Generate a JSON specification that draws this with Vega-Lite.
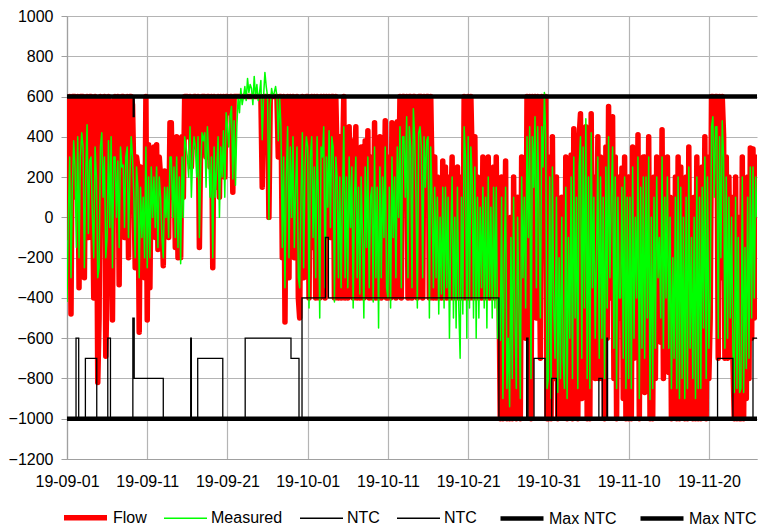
{
"$schema": "https://vega.github.io/schema/vega-lite/v6.json",
"width": 690, "height": 443,
"autosize": {"type": "none"},
"padding": {"left": 67, "top": 16, "right": 1, "bottom": 69},
"background": "white",
"config": {"font": "Liberation Sans", "view": {"stroke": null}},
"datasets": {
"fm": [
{"t":"2019-09-01T00:00","Flow":-100,"Measured":-420},{"t":"2019-09-01T04:00","Flow":320,"Measured":0},{"t":"2019-09-01T08:00","Flow":600,"Measured":300},{"t":"2019-09-01T12:00","Flow":-480,"Measured":-300},{"t":"2019-09-01T16:00","Flow":600,"Measured":150},{"t":"2019-09-01T20:00","Flow":600,"Measured":380},
{"t":"2019-09-02T00:00","Flow":600,"Measured":250},{"t":"2019-09-02T04:00","Flow":100,"Measured":-150},{"t":"2019-09-02T08:00","Flow":600,"Measured":400},{"t":"2019-09-02T12:00","Flow":-350,"Measured":-200},{"t":"2019-09-02T16:00","Flow":600,"Measured":300},{"t":"2019-09-02T20:00","Flow":600,"Measured":420},
{"t":"2019-09-03T00:00","Flow":600,"Measured":350},{"t":"2019-09-03T04:00","Flow":-300,"Measured":-250},{"t":"2019-09-03T08:00","Flow":450,"Measured":200},{"t":"2019-09-03T12:00","Flow":600,"Measured":460},{"t":"2019-09-03T16:00","Flow":-100,"Measured":-80},{"t":"2019-09-03T20:00","Flow":600,"Measured":280},
{"t":"2019-09-04T00:00","Flow":600,"Measured":300},{"t":"2019-09-04T04:00","Flow":200,"Measured":0},{"t":"2019-09-04T08:00","Flow":-400,"Measured":-200},{"t":"2019-09-04T12:00","Flow":600,"Measured":350},{"t":"2019-09-04T16:00","Flow":420,"Measured":200},{"t":"2019-09-04T20:00","Flow":-820,"Measured":-300},
{"t":"2019-09-05T00:00","Flow":-500,"Measured":-250},{"t":"2019-09-05T04:00","Flow":600,"Measured":350},{"t":"2019-09-05T08:00","Flow":580,"Measured":420},{"t":"2019-09-05T12:00","Flow":300,"Measured":100},{"t":"2019-09-05T16:00","Flow":600,"Measured":300},{"t":"2019-09-05T20:00","Flow":-690,"Measured":-200},
{"t":"2019-09-06T00:00","Flow":-300,"Measured":-100},{"t":"2019-09-06T04:00","Flow":600,"Measured":380},{"t":"2019-09-06T08:00","Flow":100,"Measured":-50},{"t":"2019-09-06T12:00","Flow":560,"Measured":400},{"t":"2019-09-06T16:00","Flow":-510,"Measured":-250},{"t":"2019-09-06T20:00","Flow":580,"Measured":300},
{"t":"2019-09-07T00:00","Flow":600,"Measured":300},{"t":"2019-09-07T04:00","Flow":150,"Measured":0},{"t":"2019-09-07T08:00","Flow":600,"Measured":280},{"t":"2019-09-07T12:00","Flow":-335,"Measured":-150},{"t":"2019-09-07T16:00","Flow":580,"Measured":350},{"t":"2019-09-07T20:00","Flow":600,"Measured":250},
{"t":"2019-09-08T00:00","Flow":600,"Measured":260},{"t":"2019-09-08T04:00","Flow":-100,"Measured":-50},{"t":"2019-09-08T08:00","Flow":500,"Measured":300},{"t":"2019-09-08T12:00","Flow":600,"Measured":350},{"t":"2019-09-08T16:00","Flow":-200,"Measured":-100},{"t":"2019-09-08T20:00","Flow":600,"Measured":200},
{"t":"2019-09-09T00:00","Flow":600,"Measured":400},{"t":"2019-09-09T04:00","Flow":560,"Measured":300},{"t":"2019-09-09T08:00","Flow":200,"Measured":100},{"t":"2019-09-09T12:00","Flow":-250,"Measured":-200},{"t":"2019-09-09T16:00","Flow":300,"Measured":250},{"t":"2019-09-09T20:00","Flow":250,"Measured":150},
{"t":"2019-09-10T00:00","Flow":-570,"Measured":-300},{"t":"2019-09-10T04:00","Flow":250,"Measured":150},{"t":"2019-09-10T08:00","Flow":-200,"Measured":-100},{"t":"2019-09-10T12:00","Flow":200,"Measured":100},{"t":"2019-09-10T16:00","Flow":-300,"Measured":-200},{"t":"2019-09-10T20:00","Flow":600,"Measured":350},
{"t":"2019-09-11T00:00","Flow":-510,"Measured":-250},{"t":"2019-09-11T04:00","Flow":360,"Measured":200},{"t":"2019-09-11T08:00","Flow":-350,"Measured":-200},{"t":"2019-09-11T12:00","Flow":300,"Measured":250},{"t":"2019-09-11T16:00","Flow":100,"Measured":0},{"t":"2019-09-11T20:00","Flow":350,"Measured":200},
{"t":"2019-09-12T00:00","Flow":-100,"Measured":-50},{"t":"2019-09-12T04:00","Flow":360,"Measured":250},{"t":"2019-09-12T08:00","Flow":-160,"Measured":-150},{"t":"2019-09-12T12:00","Flow":300,"Measured":200},{"t":"2019-09-12T16:00","Flow":200,"Measured":100},{"t":"2019-09-12T20:00","Flow":0,"Measured":-100},
{"t":"2019-09-13T00:00","Flow":-240,"Measured":-200},{"t":"2019-09-13T04:00","Flow":230,"Measured":150},{"t":"2019-09-13T08:00","Flow":100,"Measured":0},{"t":"2019-09-13T12:00","Flow":200,"Measured":150},{"t":"2019-09-13T16:00","Flow":-100,"Measured":-100},{"t":"2019-09-13T20:00","Flow":470,"Measured":300},
{"t":"2019-09-14T00:00","Flow":470,"Measured":300},{"t":"2019-09-14T04:00","Flow":100,"Measured":0},{"t":"2019-09-14T08:00","Flow":350,"Measured":250},{"t":"2019-09-14T12:00","Flow":-150,"Measured":-100},{"t":"2019-09-14T16:00","Flow":400,"Measured":300},{"t":"2019-09-14T20:00","Flow":-200,"Measured":-150},
{"t":"2019-09-15T00:00","Flow":350,"Measured":200},{"t":"2019-09-15T04:00","Flow":-200,"Measured":-230},{"t":"2019-09-15T08:00","Flow":400,"Measured":300},{"t":"2019-09-15T12:00","Flow":100,"Measured":0},{"t":"2019-09-15T16:00","Flow":600,"Measured":400},{"t":"2019-09-15T20:00","Flow":600,"Measured":350},
{"t":"2019-09-16T00:00","Flow":600,"Measured":300},{"t":"2019-09-16T04:00","Flow":400,"Measured":200},{"t":"2019-09-16T08:00","Flow":600,"Measured":450},{"t":"2019-09-16T12:00","Flow":250,"Measured":100},{"t":"2019-09-16T16:00","Flow":450,"Measured":300},{"t":"2019-09-16T20:00","Flow":600,"Measured":400},
{"t":"2019-09-17T00:00","Flow":600,"Measured":350},{"t":"2019-09-17T04:00","Flow":350,"Measured":200},{"t":"2019-09-17T08:00","Flow":600,"Measured":400},{"t":"2019-09-17T12:00","Flow":-150,"Measured":-100},{"t":"2019-09-17T16:00","Flow":400,"Measured":250},{"t":"2019-09-17T20:00","Flow":600,"Measured":420},
{"t":"2019-09-18T00:00","Flow":600,"Measured":380},{"t":"2019-09-18T04:00","Flow":600,"Measured":420},{"t":"2019-09-18T08:00","Flow":300,"Measured":150},{"t":"2019-09-18T12:00","Flow":600,"Measured":450},{"t":"2019-09-18T16:00","Flow":600,"Measured":300},{"t":"2019-09-18T20:00","Flow":250,"Measured":100},
{"t":"2019-09-19T00:00","Flow":600,"Measured":300},{"t":"2019-09-19T04:00","Flow":-250,"Measured":-200},{"t":"2019-09-19T08:00","Flow":600,"Measured":350},{"t":"2019-09-19T12:00","Flow":150,"Measured":100},{"t":"2019-09-19T16:00","Flow":400,"Measured":250},{"t":"2019-09-19T20:00","Flow":600,"Measured":400},
{"t":"2019-09-20T00:00","Flow":100,"Measured":0},{"t":"2019-09-20T04:00","Flow":600,"Measured":350},{"t":"2019-09-20T08:00","Flow":350,"Measured":200},{"t":"2019-09-20T12:00","Flow":600,"Measured":430},{"t":"2019-09-20T16:00","Flow":200,"Measured":100},{"t":"2019-09-20T20:00","Flow":600,"Measured":520},
{"t":"2019-09-21T00:00","Flow":600,"Measured":450},{"t":"2019-09-21T04:00","Flow":520,"Measured":350},{"t":"2019-09-21T08:00","Flow":600,"Measured":500},{"t":"2019-09-21T12:00","Flow":600,"Measured":550},{"t":"2019-09-21T16:00","Flow":125,"Measured":190},{"t":"2019-09-21T20:00","Flow":600,"Measured":480},
{"t":"2019-09-22T00:00","Flow":600,"Measured":160},{"t":"2019-09-22T04:00","Flow":600,"Measured":450},{"t":"2019-09-22T08:00","Flow":600,"Measured":600},{"t":"2019-09-22T12:00","Flow":600,"Measured":520},{"t":"2019-09-22T16:00","Flow":600,"Measured":640},{"t":"2019-09-22T20:00","Flow":600,"Measured":560},
{"t":"2019-09-23T00:00","Flow":600,"Measured":600},{"t":"2019-09-23T04:00","Flow":600,"Measured":650},{"t":"2019-09-23T08:00","Flow":600,"Measured":580},{"t":"2019-09-23T12:00","Flow":600,"Measured":690},{"t":"2019-09-23T16:00","Flow":600,"Measured":620},{"t":"2019-09-23T20:00","Flow":600,"Measured":660},
{"t":"2019-09-24T00:00","Flow":600,"Measured":640},{"t":"2019-09-24T04:00","Flow":600,"Measured":560},{"t":"2019-09-24T08:00","Flow":600,"Measured":700},{"t":"2019-09-24T12:00","Flow":600,"Measured":600},{"t":"2019-09-24T16:00","Flow":600,"Measured":660},{"t":"2019-09-24T20:00","Flow":600,"Measured":580},
{"t":"2019-09-25T00:00","Flow":600,"Measured":620},{"t":"2019-09-25T04:00","Flow":600,"Measured":680},{"t":"2019-09-25T08:00","Flow":150,"Measured":385},{"t":"2019-09-25T12:00","Flow":600,"Measured":600},{"t":"2019-09-25T16:00","Flow":600,"Measured":720},{"t":"2019-09-25T20:00","Flow":600,"Measured":650},
{"t":"2019-09-26T00:00","Flow":600,"Measured":600},{"t":"2019-09-26T04:00","Flow":0,"Measured":-10},{"t":"2019-09-26T08:00","Flow":600,"Measured":550},{"t":"2019-09-26T12:00","Flow":600,"Measured":640},{"t":"2019-09-26T16:00","Flow":600,"Measured":600},{"t":"2019-09-26T20:00","Flow":600,"Measured":620},
{"t":"2019-09-27T00:00","Flow":600,"Measured":650},{"t":"2019-09-27T04:00","Flow":600,"Measured":600},{"t":"2019-09-27T08:00","Flow":300,"Measured":380},{"t":"2019-09-27T12:00","Flow":600,"Measured":600},{"t":"2019-09-27T16:00","Flow":600,"Measured":450},{"t":"2019-09-27T20:00","Flow":-200,"Measured":-150},
{"t":"2019-09-28T00:00","Flow":600,"Measured":300},{"t":"2019-09-28T04:00","Flow":-520,"Measured":-350},{"t":"2019-09-28T08:00","Flow":400,"Measured":200},{"t":"2019-09-28T12:00","Flow":600,"Measured":450},{"t":"2019-09-28T16:00","Flow":-300,"Measured":-200},{"t":"2019-09-28T20:00","Flow":600,"Measured":350},
{"t":"2019-09-29T00:00","Flow":100,"Measured":0},{"t":"2019-09-29T04:00","Flow":600,"Measured":400},{"t":"2019-09-29T08:00","Flow":-200,"Measured":-150},{"t":"2019-09-29T12:00","Flow":300,"Measured":150},{"t":"2019-09-29T16:00","Flow":600,"Measured":350},{"t":"2019-09-29T20:00","Flow":-400,"Measured":-300},
{"t":"2019-09-30T00:00","Flow":-500,"Measured":-350},{"t":"2019-09-30T04:00","Flow":200,"Measured":100},{"t":"2019-09-30T08:00","Flow":600,"Measured":420},{"t":"2019-09-30T12:00","Flow":-300,"Measured":-250},{"t":"2019-09-30T16:00","Flow":400,"Measured":250},{"t":"2019-09-30T20:00","Flow":600,"Measured":400},
{"t":"2019-10-01T00:00","Flow":600,"Measured":350},{"t":"2019-10-01T04:00","Flow":-400,"Measured":-450},{"t":"2019-10-01T08:00","Flow":450,"Measured":300},{"t":"2019-10-01T12:00","Flow":600,"Measured":400},{"t":"2019-10-01T16:00","Flow":-150,"Measured":-100},{"t":"2019-10-01T20:00","Flow":600,"Measured":250},
{"t":"2019-10-02T00:00","Flow":-400,"Measured":-300},{"t":"2019-10-02T04:00","Flow":600,"Measured":400},{"t":"2019-10-02T08:00","Flow":300,"Measured":100},{"t":"2019-10-02T12:00","Flow":-400,"Measured":-500},{"t":"2019-10-02T16:00","Flow":600,"Measured":350},{"t":"2019-10-02T20:00","Flow":450,"Measured":300},
{"t":"2019-10-03T00:00","Flow":600,"Measured":450},{"t":"2019-10-03T04:00","Flow":-400,"Measured":-350},{"t":"2019-10-03T08:00","Flow":600,"Measured":300},{"t":"2019-10-03T12:00","Flow":0,"Measured":50},{"t":"2019-10-03T16:00","Flow":600,"Measured":430},{"t":"2019-10-03T20:00","Flow":-100,"Measured":-50},
{"t":"2019-10-04T00:00","Flow":600,"Measured":400},{"t":"2019-10-04T04:00","Flow":600,"Measured":350},{"t":"2019-10-04T08:00","Flow":-400,"Measured":-420},{"t":"2019-10-04T12:00","Flow":600,"Measured":300},{"t":"2019-10-04T16:00","Flow":300,"Measured":200},{"t":"2019-10-04T20:00","Flow":-400,"Measured":-300},
{"t":"2019-10-05T00:00","Flow":400,"Measured":200},{"t":"2019-10-05T04:00","Flow":-400,"Measured":-350},{"t":"2019-10-05T08:00","Flow":250,"Measured":100},{"t":"2019-10-05T12:00","Flow":600,"Measured":450},{"t":"2019-10-05T16:00","Flow":-400,"Measured":-300},{"t":"2019-10-05T20:00","Flow":350,"Measured":200},
{"t":"2019-10-06T00:00","Flow":-400,"Measured":-350},{"t":"2019-10-06T04:00","Flow":450,"Measured":300},{"t":"2019-10-06T08:00","Flow":-100,"Measured":-50},{"t":"2019-10-06T12:00","Flow":380,"Measured":250},{"t":"2019-10-06T16:00","Flow":-400,"Measured":-450},{"t":"2019-10-06T20:00","Flow":200,"Measured":100},
{"t":"2019-10-07T00:00","Flow":450,"Measured":300},{"t":"2019-10-07T04:00","Flow":-400,"Measured":-300},{"t":"2019-10-07T08:00","Flow":300,"Measured":150},{"t":"2019-10-07T12:00","Flow":-400,"Measured":-380},{"t":"2019-10-07T16:00","Flow":350,"Measured":200},{"t":"2019-10-07T20:00","Flow":0,"Measured":-100},
{"t":"2019-10-08T00:00","Flow":-400,"Measured":-500},{"t":"2019-10-08T04:00","Flow":380,"Measured":250},{"t":"2019-10-08T08:00","Flow":-250,"Measured":-150},{"t":"2019-10-08T12:00","Flow":430,"Measured":300},{"t":"2019-10-08T16:00","Flow":-400,"Measured":-350},{"t":"2019-10-08T20:00","Flow":200,"Measured":100},
{"t":"2019-10-09T00:00","Flow":300,"Measured":150},{"t":"2019-10-09T04:00","Flow":-400,"Measured":-420},{"t":"2019-10-09T08:00","Flow":470,"Measured":350},{"t":"2019-10-09T12:00","Flow":-400,"Measured":-300},{"t":"2019-10-09T16:00","Flow":250,"Measured":150},{"t":"2019-10-09T20:00","Flow":-400,"Measured":-550},
{"t":"2019-10-10T00:00","Flow":400,"Measured":250},{"t":"2019-10-10T04:00","Flow":-400,"Measured":-300},{"t":"2019-10-10T08:00","Flow":300,"Measured":200},{"t":"2019-10-10T12:00","Flow":0,"Measured":-100},{"t":"2019-10-10T16:00","Flow":480,"Measured":350},{"t":"2019-10-10T20:00","Flow":-400,"Measured":-350},
{"t":"2019-10-11T00:00","Flow":-400,"Measured":-400},{"t":"2019-10-11T04:00","Flow":300,"Measured":150},{"t":"2019-10-11T08:00","Flow":-400,"Measured":-450},{"t":"2019-10-11T12:00","Flow":470,"Measured":300},{"t":"2019-10-11T16:00","Flow":-200,"Measured":-100},{"t":"2019-10-11T20:00","Flow":300,"Measured":200},
{"t":"2019-10-12T00:00","Flow":-400,"Measured":-300},{"t":"2019-10-12T04:00","Flow":475,"Measured":350},{"t":"2019-10-12T08:00","Flow":100,"Measured":0},{"t":"2019-10-12T12:00","Flow":600,"Measured":450},{"t":"2019-10-12T16:00","Flow":-400,"Measured":-350},{"t":"2019-10-12T20:00","Flow":600,"Measured":400},
{"t":"2019-10-13T00:00","Flow":600,"Measured":400},{"t":"2019-10-13T04:00","Flow":200,"Measured":100},{"t":"2019-10-13T08:00","Flow":600,"Measured":500},{"t":"2019-10-13T12:00","Flow":-400,"Measured":-300},{"t":"2019-10-13T16:00","Flow":600,"Measured":450},{"t":"2019-10-13T20:00","Flow":600,"Measured":350},
{"t":"2019-10-14T00:00","Flow":-400,"Measured":-350},{"t":"2019-10-14T04:00","Flow":600,"Measured":540},{"t":"2019-10-14T08:00","Flow":600,"Measured":400},{"t":"2019-10-14T12:00","Flow":200,"Measured":100},{"t":"2019-10-14T16:00","Flow":-400,"Measured":-450},{"t":"2019-10-14T20:00","Flow":600,"Measured":420},
{"t":"2019-10-15T00:00","Flow":600,"Measured":450},{"t":"2019-10-15T04:00","Flow":600,"Measured":350},{"t":"2019-10-15T08:00","Flow":-400,"Measured":-300},{"t":"2019-10-15T12:00","Flow":600,"Measured":400},{"t":"2019-10-15T16:00","Flow":300,"Measured":150},{"t":"2019-10-15T20:00","Flow":600,"Measured":380},
{"t":"2019-10-16T00:00","Flow":600,"Measured":400},{"t":"2019-10-16T04:00","Flow":-400,"Measured":-500},{"t":"2019-10-16T08:00","Flow":600,"Measured":350},{"t":"2019-10-16T12:00","Flow":200,"Measured":100},{"t":"2019-10-16T16:00","Flow":-400,"Measured":-350},{"t":"2019-10-16T20:00","Flow":300,"Measured":150},
{"t":"2019-10-17T00:00","Flow":-400,"Measured":-300},{"t":"2019-10-17T04:00","Flow":200,"Measured":100},{"t":"2019-10-17T08:00","Flow":-400,"Measured":-480},{"t":"2019-10-17T12:00","Flow":100,"Measured":0},{"t":"2019-10-17T16:00","Flow":-400,"Measured":-380},{"t":"2019-10-17T20:00","Flow":280,"Measured":150},
{"t":"2019-10-18T00:00","Flow":-400,"Measured":-450},{"t":"2019-10-18T04:00","Flow":250,"Measured":150},{"t":"2019-10-18T08:00","Flow":-400,"Measured":-350},{"t":"2019-10-18T12:00","Flow":200,"Measured":100},{"t":"2019-10-18T16:00","Flow":-400,"Measured":-600},{"t":"2019-10-18T20:00","Flow":0,"Measured":-100},
{"t":"2019-10-19T00:00","Flow":300,"Measured":200},{"t":"2019-10-19T04:00","Flow":-400,"Measured":-500},{"t":"2019-10-19T08:00","Flow":150,"Measured":0},{"t":"2019-10-19T12:00","Flow":-400,"Measured":-550},{"t":"2019-10-19T16:00","Flow":250,"Measured":150},{"t":"2019-10-19T20:00","Flow":-400,"Measured":-450},
{"t":"2019-10-20T00:00","Flow":-400,"Measured":-700},{"t":"2019-10-20T04:00","Flow":200,"Measured":100},{"t":"2019-10-20T08:00","Flow":-400,"Measured":-480},{"t":"2019-10-20T12:00","Flow":600,"Measured":450},{"t":"2019-10-20T16:00","Flow":470,"Measured":300},{"t":"2019-10-20T20:00","Flow":-400,"Measured":-600},
{"t":"2019-10-21T00:00","Flow":600,"Measured":400},{"t":"2019-10-21T04:00","Flow":-400,"Measured":-450},{"t":"2019-10-21T08:00","Flow":600,"Measured":350},{"t":"2019-10-21T12:00","Flow":300,"Measured":200},{"t":"2019-10-21T16:00","Flow":-400,"Measured":-500},{"t":"2019-10-21T20:00","Flow":400,"Measured":250},
{"t":"2019-10-22T00:00","Flow":-400,"Measured":-600},{"t":"2019-10-22T04:00","Flow":200,"Measured":100},{"t":"2019-10-22T08:00","Flow":-400,"Measured":-500},{"t":"2019-10-22T12:00","Flow":100,"Measured":50},{"t":"2019-10-22T16:00","Flow":-400,"Measured":-350},{"t":"2019-10-22T20:00","Flow":300,"Measured":150},
{"t":"2019-10-23T00:00","Flow":-400,"Measured":-450},{"t":"2019-10-23T04:00","Flow":200,"Measured":100},{"t":"2019-10-23T08:00","Flow":-400,"Measured":-550},{"t":"2019-10-23T12:00","Flow":300,"Measured":200},{"t":"2019-10-23T16:00","Flow":-400,"Measured":-400},{"t":"2019-10-23T20:00","Flow":200,"Measured":50},
{"t":"2019-10-24T00:00","Flow":-400,"Measured":-500},{"t":"2019-10-24T04:00","Flow":250,"Measured":150},{"t":"2019-10-24T08:00","Flow":-400,"Measured":-450},{"t":"2019-10-24T12:00","Flow":300,"Measured":150},{"t":"2019-10-24T16:00","Flow":-400,"Measured":-600},{"t":"2019-10-24T20:00","Flow":-300,"Measured":-400},
{"t":"2019-10-25T00:00","Flow":-1000,"Measured":-610},{"t":"2019-10-25T04:00","Flow":200,"Measured":100},{"t":"2019-10-25T08:00","Flow":-1000,"Measured":-900},{"t":"2019-10-25T12:00","Flow":-300,"Measured":-200},{"t":"2019-10-25T16:00","Flow":280,"Measured":150},{"t":"2019-10-25T20:00","Flow":-1000,"Measured":-850},
{"t":"2019-10-26T00:00","Flow":-800,"Measured":-600},{"t":"2019-10-26T04:00","Flow":-1000,"Measured":-940},{"t":"2019-10-26T08:00","Flow":0,"Measured":-100},{"t":"2019-10-26T12:00","Flow":-1000,"Measured":-800},{"t":"2019-10-26T16:00","Flow":200,"Measured":100},{"t":"2019-10-26T20:00","Flow":-700,"Measured":-500},
{"t":"2019-10-27T00:00","Flow":-1000,"Measured":-850},{"t":"2019-10-27T04:00","Flow":100,"Measured":0},{"t":"2019-10-27T08:00","Flow":-600,"Measured":-450},{"t":"2019-10-27T12:00","Flow":-1000,"Measured":-900},{"t":"2019-10-27T16:00","Flow":300,"Measured":200},{"t":"2019-10-27T20:00","Flow":-400,"Measured":-300},
{"t":"2019-10-28T00:00","Flow":200,"Measured":100},{"t":"2019-10-28T04:00","Flow":-600,"Measured":-450},{"t":"2019-10-28T08:00","Flow":600,"Measured":400},{"t":"2019-10-28T12:00","Flow":-200,"Measured":-100},{"t":"2019-10-28T16:00","Flow":600,"Measured":450},{"t":"2019-10-28T20:00","Flow":-1000,"Measured":-800},
{"t":"2019-10-29T00:00","Flow":600,"Measured":400},{"t":"2019-10-29T04:00","Flow":300,"Measured":150},{"t":"2019-10-29T08:00","Flow":600,"Measured":500},{"t":"2019-10-29T12:00","Flow":-500,"Measured":-350},{"t":"2019-10-29T16:00","Flow":600,"Measured":450},{"t":"2019-10-29T20:00","Flow":100,"Measured":0},
{"t":"2019-10-30T00:00","Flow":-700,"Measured":-500},{"t":"2019-10-30T04:00","Flow":600,"Measured":450},{"t":"2019-10-30T08:00","Flow":400,"Measured":250},{"t":"2019-10-30T12:00","Flow":600,"Measured":620},{"t":"2019-10-30T16:00","Flow":600,"Measured":400},{"t":"2019-10-30T20:00","Flow":-1000,"Measured":-850},
{"t":"2019-10-31T00:00","Flow":-1000,"Measured":-800},{"t":"2019-10-31T04:00","Flow":300,"Measured":200},{"t":"2019-10-31T08:00","Flow":-1000,"Measured":-900},{"t":"2019-10-31T12:00","Flow":400,"Measured":250},{"t":"2019-10-31T16:00","Flow":-600,"Measured":-450},{"t":"2019-10-31T20:00","Flow":-800,"Measured":-700},
{"t":"2019-11-01T00:00","Flow":200,"Measured":100},{"t":"2019-11-01T04:00","Flow":-1000,"Measured":-870},{"t":"2019-11-01T08:00","Flow":-300,"Measured":-200},{"t":"2019-11-01T12:00","Flow":-980,"Measured":-800},{"t":"2019-11-01T16:00","Flow":100,"Measured":0},{"t":"2019-11-01T20:00","Flow":-900,"Measured":-700},
{"t":"2019-11-02T00:00","Flow":-980,"Measured":-850},{"t":"2019-11-02T04:00","Flow":300,"Measured":150},{"t":"2019-11-02T08:00","Flow":-1000,"Measured":-900},{"t":"2019-11-02T12:00","Flow":0,"Measured":-100},{"t":"2019-11-02T16:00","Flow":-800,"Measured":-600},{"t":"2019-11-02T20:00","Flow":310,"Measured":200},
{"t":"2019-11-03T00:00","Flow":-1000,"Measured":-800},{"t":"2019-11-03T04:00","Flow":440,"Measured":300},{"t":"2019-11-03T08:00","Flow":-700,"Measured":-500},{"t":"2019-11-03T12:00","Flow":200,"Measured":100},{"t":"2019-11-03T16:00","Flow":-1000,"Measured":-850},{"t":"2019-11-03T20:00","Flow":400,"Measured":250},
{"t":"2019-11-04T00:00","Flow":515,"Measured":400},{"t":"2019-11-04T04:00","Flow":-900,"Measured":-700},{"t":"2019-11-04T08:00","Flow":400,"Measured":350},{"t":"2019-11-04T12:00","Flow":-600,"Measured":-450},{"t":"2019-11-04T16:00","Flow":450,"Measured":490},{"t":"2019-11-04T20:00","Flow":-1000,"Measured":-800},
{"t":"2019-11-05T00:00","Flow":300,"Measured":200},{"t":"2019-11-05T04:00","Flow":-1000,"Measured":-850},{"t":"2019-11-05T08:00","Flow":515,"Measured":420},{"t":"2019-11-05T12:00","Flow":-500,"Measured":-350},{"t":"2019-11-05T16:00","Flow":200,"Measured":100},{"t":"2019-11-05T20:00","Flow":-800,"Measured":-600},
{"t":"2019-11-06T00:00","Flow":-300,"Measured":-200},{"t":"2019-11-06T04:00","Flow":400,"Measured":300},{"t":"2019-11-06T08:00","Flow":-800,"Measured":-700},{"t":"2019-11-06T12:00","Flow":300,"Measured":200},{"t":"2019-11-06T16:00","Flow":-800,"Measured":-600},{"t":"2019-11-06T20:00","Flow":200,"Measured":100},
{"t":"2019-11-07T00:00","Flow":-1000,"Measured":-800},{"t":"2019-11-07T04:00","Flow":350,"Measured":250},{"t":"2019-11-07T08:00","Flow":-600,"Measured":-450},{"t":"2019-11-07T12:00","Flow":550,"Measured":400},{"t":"2019-11-07T16:00","Flow":-400,"Measured":-300},{"t":"2019-11-07T20:00","Flow":200,"Measured":100},
{"t":"2019-11-08T00:00","Flow":500,"Measured":350},{"t":"2019-11-08T04:00","Flow":-800,"Measured":-650},{"t":"2019-11-08T08:00","Flow":300,"Measured":200},{"t":"2019-11-08T12:00","Flow":-1000,"Measured":-850},{"t":"2019-11-08T16:00","Flow":200,"Measured":100},{"t":"2019-11-08T20:00","Flow":-500,"Measured":-400},
{"t":"2019-11-09T00:00","Flow":-475,"Measured":-400},{"t":"2019-11-09T04:00","Flow":245,"Measured":150},{"t":"2019-11-09T08:00","Flow":-900,"Measured":-700},{"t":"2019-11-09T12:00","Flow":300,"Measured":200},{"t":"2019-11-09T16:00","Flow":-1000,"Measured":-850},{"t":"2019-11-09T20:00","Flow":200,"Measured":100},
{"t":"2019-11-10T00:00","Flow":-1000,"Measured":-800},{"t":"2019-11-10T04:00","Flow":200,"Measured":100},{"t":"2019-11-10T08:00","Flow":-1000,"Measured":-850},{"t":"2019-11-10T12:00","Flow":350,"Measured":250},{"t":"2019-11-10T16:00","Flow":-700,"Measured":-600},{"t":"2019-11-10T20:00","Flow":100,"Measured":0},
{"t":"2019-11-11T00:00","Flow":-500,"Measured":-400},{"t":"2019-11-11T04:00","Flow":410,"Measured":300},{"t":"2019-11-11T08:00","Flow":-1000,"Measured":-900},{"t":"2019-11-11T12:00","Flow":225,"Measured":150},{"t":"2019-11-11T16:00","Flow":-800,"Measured":-650},{"t":"2019-11-11T20:00","Flow":300,"Measured":200},
{"t":"2019-11-12T00:00","Flow":-870,"Measured":-700},{"t":"2019-11-12T04:00","Flow":300,"Measured":200},{"t":"2019-11-12T08:00","Flow":-600,"Measured":-500},{"t":"2019-11-12T12:00","Flow":400,"Measured":300},{"t":"2019-11-12T16:00","Flow":-1000,"Measured":-905},{"t":"2019-11-12T20:00","Flow":100,"Measured":0},
{"t":"2019-11-13T00:00","Flow":-1000,"Measured":-850},{"t":"2019-11-13T04:00","Flow":200,"Measured":100},{"t":"2019-11-13T08:00","Flow":-800,"Measured":-650},{"t":"2019-11-13T12:00","Flow":300,"Measured":200},{"t":"2019-11-13T16:00","Flow":-400,"Measured":-300},{"t":"2019-11-13T20:00","Flow":0,"Measured":-100},
{"t":"2019-11-14T00:00","Flow":-620,"Measured":-500},{"t":"2019-11-14T04:00","Flow":435,"Measured":300},{"t":"2019-11-14T08:00","Flow":-800,"Measured":-650},{"t":"2019-11-14T12:00","Flow":200,"Measured":100},{"t":"2019-11-14T16:00","Flow":-500,"Measured":-400},{"t":"2019-11-14T20:00","Flow":300,"Measured":200},
{"t":"2019-11-15T00:00","Flow":-770,"Measured":-650},{"t":"2019-11-15T04:00","Flow":100,"Measured":0},{"t":"2019-11-15T08:00","Flow":-1000,"Measured":-850},{"t":"2019-11-15T12:00","Flow":-130,"Measured":-200},{"t":"2019-11-15T16:00","Flow":-900,"Measured":-700},{"t":"2019-11-15T20:00","Flow":200,"Measured":100},
{"t":"2019-11-16T00:00","Flow":-1000,"Measured":-850},{"t":"2019-11-16T04:00","Flow":300,"Measured":200},{"t":"2019-11-16T08:00","Flow":-1000,"Measured":-900},{"t":"2019-11-16T12:00","Flow":250,"Measured":150},{"t":"2019-11-16T16:00","Flow":-945,"Measured":-800},{"t":"2019-11-16T20:00","Flow":100,"Measured":0},
{"t":"2019-11-17T00:00","Flow":-1000,"Measured":-900},{"t":"2019-11-17T04:00","Flow":200,"Measured":100},{"t":"2019-11-17T08:00","Flow":-1000,"Measured":-850},{"t":"2019-11-17T12:00","Flow":350,"Measured":250},{"t":"2019-11-17T16:00","Flow":-800,"Measured":-650},{"t":"2019-11-17T20:00","Flow":0,"Measured":-100},
{"t":"2019-11-18T00:00","Flow":-1000,"Measured":-800},{"t":"2019-11-18T04:00","Flow":100,"Measured":0},{"t":"2019-11-18T08:00","Flow":-1000,"Measured":-900},{"t":"2019-11-18T12:00","Flow":300,"Measured":200},{"t":"2019-11-18T16:00","Flow":-1000,"Measured":-850},{"t":"2019-11-18T20:00","Flow":200,"Measured":100},
{"t":"2019-11-19T00:00","Flow":-1000,"Measured":-850},{"t":"2019-11-19T04:00","Flow":250,"Measured":150},{"t":"2019-11-19T08:00","Flow":-700,"Measured":-550},{"t":"2019-11-19T12:00","Flow":400,"Measured":300},{"t":"2019-11-19T16:00","Flow":-1000,"Measured":-800},{"t":"2019-11-19T20:00","Flow":300,"Measured":200},
{"t":"2019-11-20T00:00","Flow":-800,"Measured":-650},{"t":"2019-11-20T04:00","Flow":-500,"Measured":-400},{"t":"2019-11-20T08:00","Flow":600,"Measured":450},{"t":"2019-11-20T12:00","Flow":600,"Measured":500},{"t":"2019-11-20T16:00","Flow":200,"Measured":100},{"t":"2019-11-20T20:00","Flow":600,"Measured":450},
{"t":"2019-11-21T00:00","Flow":600,"Measured":450},{"t":"2019-11-21T04:00","Flow":-700,"Measured":-600},{"t":"2019-11-21T08:00","Flow":600,"Measured":400},{"t":"2019-11-21T12:00","Flow":-300,"Measured":-200},{"t":"2019-11-21T16:00","Flow":600,"Measured":480},{"t":"2019-11-21T20:00","Flow":410,"Measured":300},
{"t":"2019-11-22T00:00","Flow":-700,"Measured":-650},{"t":"2019-11-22T04:00","Flow":300,"Measured":200},{"t":"2019-11-22T08:00","Flow":-700,"Measured":-600},{"t":"2019-11-22T12:00","Flow":200,"Measured":100},{"t":"2019-11-22T16:00","Flow":-600,"Measured":-500},{"t":"2019-11-22T20:00","Flow":100,"Measured":0},
{"t":"2019-11-23T00:00","Flow":-700,"Measured":-650},{"t":"2019-11-23T04:00","Flow":-1000,"Measured":-870},{"t":"2019-11-23T08:00","Flow":200,"Measured":100},{"t":"2019-11-23T12:00","Flow":-1000,"Measured":-850},{"t":"2019-11-23T16:00","Flow":0,"Measured":-100},{"t":"2019-11-23T20:00","Flow":-1000,"Measured":-870},
{"t":"2019-11-24T00:00","Flow":-1000,"Measured":-850},{"t":"2019-11-24T04:00","Flow":300,"Measured":200},{"t":"2019-11-24T08:00","Flow":-1000,"Measured":-870},{"t":"2019-11-24T12:00","Flow":-100,"Measured":-150},{"t":"2019-11-24T16:00","Flow":-900,"Measured":-750},{"t":"2019-11-24T20:00","Flow":200,"Measured":100},
{"t":"2019-11-25T00:00","Flow":-800,"Measured":-700},{"t":"2019-11-25T04:00","Flow":345,"Measured":250},{"t":"2019-11-25T08:00","Flow":-600,"Measured":-500},{"t":"2019-11-25T12:00","Flow":340,"Measured":250},{"t":"2019-11-25T16:00","Flow":-500,"Measured":-400},{"t":"2019-11-25T20:00","Flow":300,"Measured":200},
{"t":"2019-11-26T00:00","Flow":-30,"Measured":0}
],
"ntc": [
{"t":"2019-09-01T00:00","s":"NTC","v":-1000},{"t":"2019-09-02T03:00","s":"NTC","v":-600},{"t":"2019-09-02T11:00","s":"NTC","v":-1000},{"t":"2019-09-03T07:00","s":"NTC","v":-700},{"t":"2019-09-04T17:00","s":"NTC","v":-1000},{"t":"2019-09-06T02:00","s":"NTC","v":-600},{"t":"2019-09-06T10:00","s":"NTC","v":-1000},{"t":"2019-09-09T05:00","s":"NTC","v":-500},{"t":"2019-09-09T09:00","s":"NTC","v":-800},{"t":"2019-09-13T00:00","s":"NTC","v":-1000},{"t":"2019-09-16T10:00","s":"NTC","v":-600},{"t":"2019-09-16T12:00","s":"NTC","v":-1000},{"t":"2019-09-17T07:00","s":"NTC","v":-700},{"t":"2019-09-20T10:00","s":"NTC","v":-1000},{"t":"2019-09-23T05:00","s":"NTC","v":-600},{"t":"2019-09-28T22:00","s":"NTC","v":-700},{"t":"2019-09-29T22:00","s":"NTC","v":-1000},{"t":"2019-09-30T07:00","s":"NTC","v":-400},{"t":"2019-10-03T05:00","s":"NTC","v":-100},{"t":"2019-10-03T14:00","s":"NTC","v":-400},{"t":"2019-10-24T20:00","s":"NTC","v":-1000},{"t":"2019-10-28T07:00","s":"NTC","v":-600},{"t":"2019-10-28T11:00","s":"NTC","v":-1000},{"t":"2019-10-29T05:00","s":"NTC","v":-700},{"t":"2019-10-30T14:00","s":"NTC","v":-1000},{"t":"2019-10-31T10:00","s":"NTC","v":-800},{"t":"2019-11-01T00:00","s":"NTC","v":-1000},{"t":"2019-11-06T07:00","s":"NTC","v":-800},{"t":"2019-11-06T17:00","s":"NTC","v":-1000},{"t":"2019-11-07T07:00","s":"NTC","v":-600},{"t":"2019-11-07T09:00","s":"NTC","v":-1000},{"t":"2019-11-21T02:00","s":"NTC","v":-700},{"t":"2019-11-23T00:00","s":"NTC","v":-1000},{"t":"2019-11-25T12:00","s":"NTC","v":-600},{"t":"2019-11-26T00:00","s":"NTC","v":-600},
{"t":"2019-09-01T00:00","s":"NTC2","v":600},{"t":"2019-09-09T06:00","s":"NTC2","v":500},{"t":"2019-09-09T09:00","s":"NTC2","v":600},{"t":"2019-11-26T00:00","s":"NTC2","v":600}
],
"max": [
{"t":"2019-09-01T00:00","s":"Max NTC","v":600},{"t":"2019-11-26T00:00","s":"Max NTC","v":600},
{"t":"2019-09-01T00:00","s":"Max NTC2","v":-1000},{"t":"2019-11-26T00:00","s":"Max NTC2","v":-1000}
]
},
"encoding": {
"x": {"field": "t", "type": "temporal",
 "scale": {"domain": [{"year":2019,"month":9,"date":1},{"year":2019,"month":11,"date":26}]},
 "axis": {"title": null, "format": "%y-%m-%d", "labelFontSize": 16, "labelColor": "#000000",
  "values": [{"year":2019,"month":9,"date":1},{"year":2019,"month":9,"date":11},{"year":2019,"month":9,"date":21},{"year":2019,"month":10,"date":1},{"year":2019,"month":10,"date":11},{"year":2019,"month":10,"date":21},{"year":2019,"month":10,"date":31},{"year":2019,"month":11,"date":10},{"year":2019,"month":11,"date":20}],
  "grid": true, "gridColor": "#b4b4b4", "gridWidth": 1.2, "domainColor": "#a0a0a0", "domainWidth": 1.2, "ticks": false, "labelPadding": 14, "labelOverlap": false, "labelFlush": false}},
"y": {"field": "v", "type": "quantitative",
 "scale": {"domain": [-1200, 1000], "nice": false, "zero": false},
 "axis": {"title": null, "format": "d", "labelFontSize": 16, "labelColor": "#000000",
  "values": [-1200,-1000,-800,-600,-400,-200,0,200,400,600,800,1000],
  "grid": true, "gridColor": "#b4b4b4", "gridWidth": 1.2, "domainColor": "#a0a0a0", "domainWidth": 1.2, "tickColor": "#a0a0a0", "tickSize": 6, "labelPadding": 8}},
"color": {"field": "s", "type": "nominal",
 "scale": {"domain": ["Flow","Measured","NTC","NTC2","Max NTC","Max NTC2"], "range": ["#ff0000","#00ff00","#000000","#000000","#000000","#000000"]},
 "legend": {"orient": "none", "legendX": -6, "legendY": 477, "direction": "horizontal", "title": null, "padding": 0, "labelExpr": "replace(datum.label, '2', '')",
  "symbolType": "stroke", "symbolSize": 1849, "labelFontSize": 16, "labelColor": "#000000", "columnPadding": 14, "labelOffset": 3}},
"strokeWidth": {"field": "s", "type": "nominal",
 "scale": {"type": "ordinal", "domain": ["Flow","Measured","NTC","NTC2","Max NTC","Max NTC2"], "range": [5.5, 1.5, 1.3, 1.3, 4.5, 4.5]},
 "legend": {"orient": "none", "legendX": -6, "legendY": 477, "direction": "horizontal", "title": null, "padding": 0, "labelExpr": "replace(datum.label, '2', '')",
  "symbolType": "stroke", "symbolSize": 1849, "labelFontSize": 16, "labelColor": "#000000", "columnPadding": 14, "labelOffset": 3}}
},
"layer": [
{"data": {"name": "fm"}, "transform": [{"fold": ["Flow"], "as": ["s", "v"]}], "mark": {"type": "line", "strokeCap": "round", "strokeJoin": "round", "clip": true}},
{"data": {"name": "fm"}, "transform": [{"fold": ["Measured"], "as": ["s", "v"]}], "mark": {"type": "line", "strokeJoin": "round", "clip": true}},
{"data": {"name": "ntc"}, "mark": {"type": "line", "interpolate": "step-after", "clip": true}},
{"data": {"name": "max"}, "mark": {"type": "line", "clip": true}}
]
}
